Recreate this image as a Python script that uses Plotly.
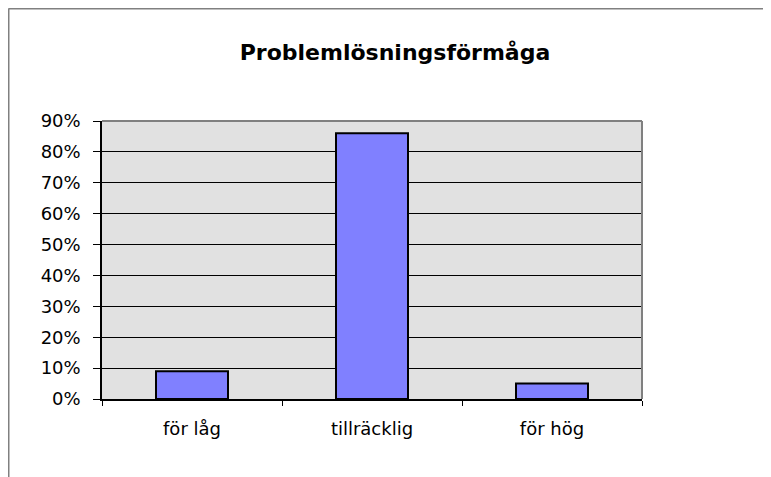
""" Problemlösningsförmåga - bar chart. """

import plotly.graph_objects as go

categories = ["för låg", "tillräcklig", "för hög"]
shares = [0.09, 0.86, 0.05]
y_ticks = [0, 0.1, 0.2, 0.3, 0.4, 0.5, 0.6, 0.7, 0.8, 0.9]

FONT = "DejaVu Sans, Liberation Sans, Arial, sans-serif"
GRAY = "#808080"

# page body has an 8px margin, so the figure is 8px smaller than the window
W, H = 763, 469
L, T, PW, PH = 94, 113, 540, 278

fig = go.Figure(
    go.Bar(
        x=categories,
        y=shares,
        marker=dict(color="#8080FF", line=dict(color="black", width=2)),
        width=0.4,
    )
)

fig.update_layout(
    width=W,
    height=H,
    margin=dict(l=L, r=W - L - PW, t=T, b=H - T - PH),
    paper_bgcolor="white",
    plot_bgcolor="#E1E1E1",
    showlegend=False,
    font=dict(family=FONT, size=18, color="black"),
    title=dict(
        text="<b>Problemlösningsförmåga</b>",
        font=dict(family=FONT, size=22, color="black"),
        x=387 / W,
        xanchor="center",
        y=1 - 44 / H,
        yanchor="middle",
    ),
)

fig.update_xaxes(
    showline=True,
    linecolor="black",
    linewidth=1.5,
    ticks="outside",
    tickson="boundaries",
    ticklen=5,
    tickcolor="black",
    ticklabelstandoff=13,
    showgrid=False,
)
fig.update_yaxes(
    range=[0, 0.9],
    tickvals=y_ticks,
    tickformat=".0%",
    showline=True,
    linecolor="black",
    linewidth=1.5,
    ticks="outside",
    ticklen=7,
    tickcolor="black",
    ticklabelstandoff=9,
    showgrid=True,
    gridcolor="black",
    gridwidth=1,
    zeroline=False,
)

# gray top/right edge of plot area and outer chart frame (left + top)
fx0 = (0.5 - L) / PW
fx1 = (W - L) / PW
fy_top = (T + PH - 0.5) / PH
fy_bot = (T + PH - H) / PH
frame = [
    (0, 1, 1, 1),
    (1, 0, 1, 1),
    (fx0, fy_top, fx1, fy_top),
    (fx0, fy_bot, fx0, fy_top),
]
for x0, y0, x1, y1 in frame:
    fig.add_shape(
        type="line", xref="paper", yref="paper",
        x0=x0, y0=y0, x1=x1, y1=y1,
        line=dict(color=GRAY, width=2),
    )

fig.write_html("out.html")
